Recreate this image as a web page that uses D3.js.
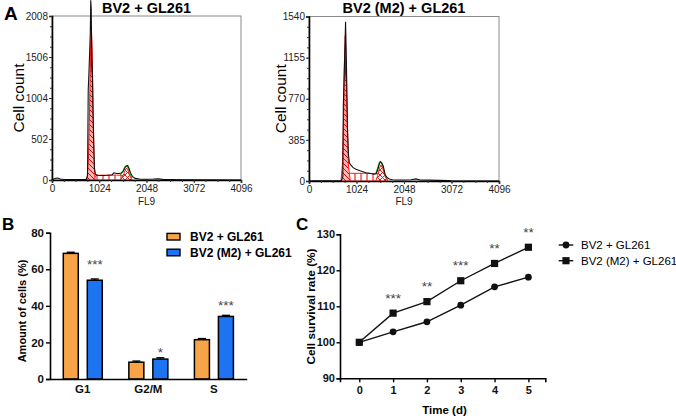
<!DOCTYPE html>
<html><head><meta charset="utf-8">
<script src="https://cdn.jsdelivr.net/npm/d3@7"></script>
<style>body{margin:0;background:#fff} svg{display:block} text{font-family:Arial,"Liberation Sans",sans-serif}</style>
</head><body><svg id="c" width="676" height="420"></svg>
<script>
// ---------- Panel A data (flow cytometry histograms, FL9 channel vs cell count) ----------
const histTitles = ["BV2 + GL261", "BV2 (M2) + GL261"];
const histYTicks1 = [0, 502, 1004, 1506, 2008];
const histYTicks2 = [0, 385, 770, 1155, 1540];
const histXTicks = [0, 1024, 2048, 3072, 4096];

const histChan1 = [0,60,120,180,260,400,600,740,770,785,800,815,830,840,850,862,875,890,905,920,940,970,1000,1100,1200,1300,1340,1400,1450,1500,1540,1580,1610,1640,1670,1700,1740,1800,1900,2000,2200,2300,2400,2600,2800,3000,4096];
const histCount1 = [0,18,25,12,6,5,4,6,50,1100,1300,1550,1800,2200,2100,1500,1350,800,450,150,70,60,58,56,58,62,88,80,80,85,105,150,170,178,140,90,45,20,12,10,12,15,8,5,3,2,0];

const histChan2 = [0,100,200,400,600,700,730,740,752,765,778,788,800,815,830,850,870,900,950,1013,1100,1229,1300,1408,1450,1479,1510,1537,1565,1600,1645,1690,1731,1800,1900,2000,2200,2307,2400,2600,2800,3000,3100,4096];
const histCount2 = [0,3,2,2,3,5,40,700,900,1100,1300,1490,1250,900,500,250,170,150,125,110,95,78,72,63,70,103,150,181,170,140,56,30,19,12,10,10,12,20,10,8,6,4,0,0];

// fitted components (red) and model sum (green, visible around the G2 peak)
const g1Chan1 = [758,790,815,835,852,870,890,910,932];
const g1Fit1  = [0,250,900,1600,1880,1600,900,250,0];
const sChan1  = [900,950,1000,1200,1400,1500,1560,1620,1700];
const sFit1   = [0,55,58,60,60,58,50,30,0];
const g2Chan1 = [1480,1540,1580,1610,1640,1680,1733];
const g2Fit1  = [0,50,110,143,130,60,0];
const sumChan1 = [1480,1540,1580,1610,1640,1680,1733];
const sumFit1  = [60,110,160,175,160,90,20];

const g1Chan2 = [690,720,745,765,782,800,820,850,890];
const g1Fit2  = [0,150,600,1150,1361,1100,600,150,0];
const sChan2  = [820,870,900,1000,1200,1400,1500,1560,1620];
const sFit2   = [0,70,72,72,72,70,66,40,0];
const g2Chan2 = [1440,1480,1520,1552,1590,1630,1694];
const g2Fit2  = [0,50,120,150,120,50,0];
const sumChan2 = [1440,1480,1510,1540,1560,1590,1630,1694];
const sumFit2  = [70,120,165,181,175,135,60,5];

// ---------- Panel B data ----------
const phases = ["G1", "G2/M", "S"];
const groups = ["BV2 + GL261", "BV2 (M2) + GL261"];
const ctrlCells = [68.7, 9.2, 21.5];
const m2Cells = [54.0, 10.9, 34.2];
const ctrlErr = [0.6, 0.6, 0.6];
const m2Err = [0.7, 0.7, 0.6];
const starsB = ["***", "*", "***"];
const starValB = [64.6, 16.4, 42.2];
const yTicksB = [0, 20, 40, 60, 80];

// ---------- Panel C data ----------
const days = [0, 1, 2, 3, 4, 5];
const ctrlSurvival = [100, 102.9, 105.7, 110.3, 115.4, 118.1];
const m2Survival = [100, 108.1, 111.3, 117.1, 121.9, 126.4];
const starsC = ["", "***", "**", "***", "**", "**"];
const yTicksC = [90, 100, 110, 120, 130];

const orange = "#F7A448", blue = "#1C74F2";
const svg = d3.select("#c");
const defs = svg.append("defs");

const grad = defs.append("linearGradient").attr("id","g1grad").attr("x1",0).attr("y1",0).attr("x2",0).attr("y2",1);
[[0,"#7a0000"],[0.25,"#a00000"],[0.33,"#ff8f8f"],[1,"#ffbcbc"]].forEach(([o,c])=>grad.append("stop").attr("offset",o).attr("stop-color",c));
const pDiag = defs.append("pattern").attr("id","hDiag").attr("patternUnits","userSpaceOnUse").attr("width",5).attr("height",5);
pDiag.append("path").attr("d","M-1,-1L6,6M-1,4L1,6M4,-1L6,1").attr("stroke","#e00000").attr("stroke-width",1);
const pVert = defs.append("pattern").attr("id","hVert").attr("patternUnits","userSpaceOnUse").attr("width",6).attr("height",6);
pVert.append("rect").attr("width",6).attr("height",6).attr("fill","#fff");
pVert.append("path").attr("d","M1,0V6").attr("stroke","#e00000").attr("stroke-width",1);
const pX = defs.append("pattern").attr("id","hX").attr("patternUnits","userSpaceOnUse").attr("width",5).attr("height",5);
pX.append("rect").attr("width",5).attr("height",5).attr("fill","#fff");
pX.append("path").attr("d","M-1,-1L6,6M-1,4L1,6M4,-1L6,1M-1,6L6,-1M-1,1L1,-1M4,6L6,4").attr("stroke","#e00000").attr("stroke-width",0.9);

const fmtInt = d3.format("d");

function histPanel(o) {
  const x = d3.scaleLinear([0,4096],[o.x0,o.x1]);
  const y = d3.scaleLinear([0,o.yMax],[o.yb,o.yt]);
  const g = svg.append("g");
  g.append("rect").attr("x",o.x0).attr("y",o.yt).attr("width",o.x1-o.x0).attr("height",o.yb-o.yt)
    .attr("fill","none").attr("stroke","#8a8a8a").attr("stroke-width",1);
  const area = d3.area().x(d=>x(d[0])).y0(y(0)).y1(d=>y(d[1]));
  const line = d3.line().x(d=>x(d[0])).y(d=>y(d[1]));
  g.append("path").datum(d3.zip(o.sumC,o.sumF)).attr("d",line).attr("fill","none").attr("stroke","#22cc22").attr("stroke-width",1.3);
  g.append("path").datum(d3.zip(o.sC,o.sF)).attr("d",area).attr("fill","url(#hVert)").attr("stroke","#ff1a1a").attr("stroke-width",1);
  g.append("path").datum(d3.zip(o.g2C,o.g2F)).attr("d",area).attr("fill","url(#hX)").attr("stroke","#ff1a1a").attr("stroke-width",1);
  g.append("path").datum(d3.zip(o.g1C,o.g1F)).attr("d",area).attr("fill","url(#g1grad)").attr("stroke","none");
  g.append("path").datum(d3.zip(o.g1C,o.g1F)).attr("d",area).attr("fill","url(#hDiag)").attr("stroke","#ff1a1a").attr("stroke-width",1);
  g.append("path").datum(d3.zip(o.hC,o.hF)).attr("d",line).attr("fill","none").attr("stroke","#111").attr("stroke-width",1.1);
  const ay = g.append("g").attr("transform",`translate(${o.x0},0)`)
    .call(d3.axisLeft(y).tickValues(o.yTicks).tickSize(3).tickPadding(1).tickFormat(fmtInt));
  const minorY = d3.range(0,o.yMax+1e-6,o.yMax/16);
  g.append("g").attr("transform",`translate(${o.x0},0)`).call(d3.axisLeft(y).tickValues(minorY).tickSize(2).tickFormat(""))
    .call(a=>a.select(".domain").remove());
  const ax = g.append("g").attr("transform",`translate(0,${o.yb})`)
    .call(d3.axisBottom(x).tickValues(histXTicks).tickSize(3).tickPadding(2).tickFormat(fmtInt));
  g.append("g").attr("transform",`translate(0,${o.yb})`).call(d3.axisBottom(x).tickValues(d3.range(0,4097,256)).tickSize(2).tickFormat(""))
    .call(a=>a.select(".domain").remove());
  [ay,ax].forEach(a=>{
    a.select(".domain").attr("stroke","#000").attr("stroke-width",1.6);
    a.selectAll("text").attr("font-size",10).attr("fill","#222").attr("font-family","Arial, Liberation Sans, sans-serif");
  });
  g.selectAll(".tick line").attr("stroke","#333");
  g.append("text").attr("x",(o.x0+o.x1)/2).attr("y",13).attr("text-anchor","middle")
    .attr("font-size",14.5).attr("font-weight","bold").text(o.title);
  g.append("text").attr("transform",`translate(${o.labX},${(o.yt+o.yb)/2}) rotate(-90)`).attr("text-anchor","middle")
    .attr("font-size",15.5).text("Cell count");
  g.append("text").attr("x",x(2048)).attr("y",205).attr("text-anchor","middle").attr("font-size",10).attr("fill","#222").text("FL9");
}

histPanel({x0:52,x1:241,yt:16,yb:180,yMax:2008,yTicks:histYTicks1,title:histTitles[0],labX:24,
  hC:histChan1,hF:histCount1,g1C:g1Chan1,g1F:g1Fit1,sC:sChan1,sF:sFit1,g2C:g2Chan1,g2F:g2Fit1,sumC:sumChan1,sumF:sumFit1});
histPanel({x0:309,x1:499,yt:16.5,yb:181,yMax:1540,yTicks:histYTicks2,title:histTitles[1],labX:286,
  hC:histChan2,hF:histCount2,g1C:g1Chan2,g1F:g1Fit2,sC:sChan2,sF:sFit2,g2C:g2Chan2,g2F:g2Fit2,sumC:sumChan2,sumF:sumFit2});

svg.append("text").attr("x",4).attr("y",20).attr("font-size",19).attr("font-weight","bold").text("A");

// ---------- Panel B ----------
{
  const g = svg.append("g");
  const x = d3.scaleBand().domain(phases).range([50,246.7]);
  const xs = d3.scaleBand().domain(groups).range([-19.5,19.5]).paddingInner(0.375);
  const y = d3.scaleLinear([0,80],[379,232.7]);
  const vals = [ctrlCells, m2Cells], errs = [ctrlErr, m2Err], cols = [orange, blue];
  groups.forEach((gr,si)=>{
    phases.forEach((p,i)=>{
      const cx = x(p)+x.bandwidth()/2;
      const bx = cx+xs(gr);
      const mx = bx+xs.bandwidth()/2;
      const v = vals[si][i], e = errs[si][i];
      g.append("line").attr("x1",mx).attr("x2",mx).attr("y1",y(v)).attr("y2",y(v+e)).attr("stroke","#000").attr("stroke-width",1.4);
      g.append("line").attr("x1",mx-4).attr("x2",mx+4).attr("y1",y(v+e)).attr("y2",y(v+e)).attr("stroke","#000").attr("stroke-width",1.4);
      g.append("rect").attr("x",bx).attr("y",y(v)).attr("width",xs.bandwidth()).attr("height",y(0)-y(v))
        .attr("fill",cols[si]).attr("stroke","#000").attr("stroke-width",1.5);
    });
  });
  phases.forEach((p,i)=>{
    g.append("text").attr("x",x(p)+x.bandwidth()/2+xs(groups[1])+xs.bandwidth()/2).attr("y",y(starValB[i])+7.7)
      .attr("text-anchor","middle").attr("font-size",13.5).attr("fill","#444").text(starsB[i]);
  });
  const ay = g.append("g").attr("transform","translate(50,0)").call(d3.axisLeft(y).tickValues(yTicksB).tickSize(4).tickPadding(2));
  const ax = g.append("g").attr("transform","translate(0,379)").call(d3.axisBottom(x).tickSize(0).tickPadding(6));
  [ay,ax].forEach(a=>{
    a.select(".domain").attr("stroke","#000").attr("stroke-width",1.6);
    a.selectAll(".tick line").attr("stroke","#000").attr("stroke-width",1.4);
    a.selectAll("text").attr("font-size",11.5).attr("font-weight","bold").attr("fill","#111").attr("font-family","Arial, Liberation Sans, sans-serif");
  });
  g.append("text").attr("transform","translate(26,311) rotate(-90)").attr("text-anchor","middle")
    .attr("font-size",11).attr("font-weight","bold").text("Amount of cells (%)");
  groups.forEach((gr,i)=>{
    const yy = 236.7+i*15.8;
    g.append("rect").attr("x",167).attr("y",yy-3.3).attr("width",13).attr("height",6.6).attr("fill",cols[i]).attr("stroke","#000").attr("stroke-width",1.4);
    g.append("text").attr("x",190).attr("y",yy+4.6).attr("font-size",12).attr("font-weight","bold").text(gr);
  });
  svg.append("text").attr("x",2).attr("y",230).attr("font-size",17).attr("font-weight","bold").text("B");
}

// ---------- Panel C ----------
{
  const g = svg.append("g");
  const x = d3.scaleLinear([-0.57,5.5],[340,545.3]);
  const y = d3.scaleLinear([90,130],[378.3,234.3]);
  const line = d3.line().x((d,i)=>x(days[i])).y(d=>y(d));
  [ctrlSurvival, m2Survival].forEach(s=>{
    g.append("path").datum(s).attr("d",line).attr("fill","none").attr("stroke","#111").attr("stroke-width",1.4);
  });
  ctrlSurvival.forEach((v,i)=>g.append("circle").attr("cx",x(days[i])).attr("cy",y(v)).attr("r",3.4).attr("fill","#111"));
  m2Survival.forEach((v,i)=>g.append("rect").attr("x",x(days[i])-3.6).attr("y",y(v)-3.6).attr("width",7.2).attr("height",7.2).attr("fill","#111"));
  starsC.forEach((s,i)=>{
    if (s) g.append("text").attr("x",x(days[i])).attr("y",y(m2Survival[i])-18+7.7).attr("text-anchor","middle")
      .attr("font-size",13.5).attr("fill","#444").text(s);
  });
  const ay = g.append("g").attr("transform","translate(340,0)").call(d3.axisLeft(y).tickValues(yTicksC).tickSize(3.5).tickPadding(1.5));
  const ax = g.append("g").attr("transform","translate(0,378.3)").call(d3.axisBottom(x).tickValues(days).tickSize(4).tickPadding(4).tickFormat(fmtInt));
  [ay,ax].forEach(a=>{
    a.select(".domain").attr("stroke","#000").attr("stroke-width",1.6);
    a.selectAll(".tick line").attr("stroke","#000").attr("stroke-width",1.4);
    a.selectAll("text").attr("font-size",11).attr("font-weight","bold").attr("fill","#111").attr("font-family","Arial, Liberation Sans, sans-serif");
  });
  g.append("text").attr("x",444.5).attr("y",414).attr("text-anchor","middle").attr("font-size",11.5).attr("font-weight","bold").text("Time (d)");
  g.append("text").attr("transform","translate(314.5,306.5) rotate(-90)").attr("text-anchor","middle")
    .attr("font-size",11.8).attr("font-weight","bold").text("Cell survival rate (%)");
  groups.forEach((gr,i)=>{
    const yy = 245+i*15.7;
    g.append("line").attr("x1",558.7).attr("x2",573.3).attr("y1",yy).attr("y2",yy).attr("stroke","#111").attr("stroke-width",1.4);
    if (i===0) g.append("circle").attr("cx",566).attr("cy",yy).attr("r",3.4).attr("fill","#111");
    else g.append("rect").attr("x",562.4).attr("y",yy-3.6).attr("width",7.2).attr("height",7.2).attr("fill","#111");
    g.append("text").attr("x",581).attr("y",yy+4).attr("font-size",11.5).text(gr);
  });
  svg.append("text").attr("x",296).attr("y",230).attr("font-size",17).attr("font-weight","bold").text("C");
}
</script></body></html>
